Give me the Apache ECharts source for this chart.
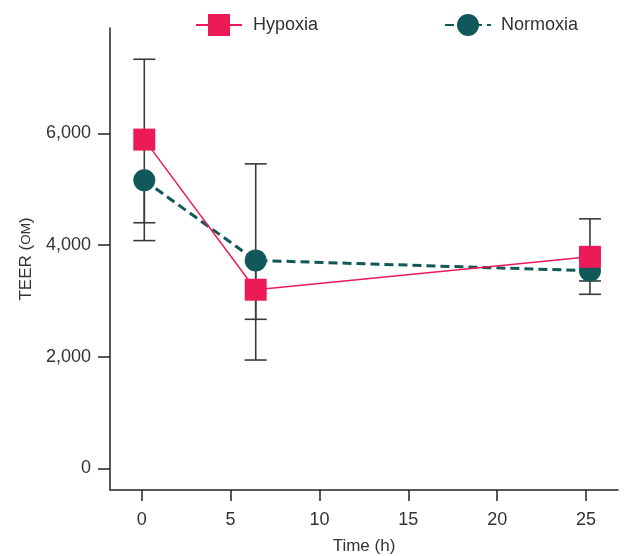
<!DOCTYPE html>
<html>
<head>
<meta charset="utf-8">
<script src="https://cdn.jsdelivr.net/npm/echarts@6/dist/echarts.min.js"></script>
<style>
    html, body { margin: 0; padding: 0; background: #fff; }
    #main { width: 625px; height: 556px; }
</style>
</head>
<body>
<div id="main"></div>
<script>
    // time points (h) and means
    const times = [0, 6, 24];
    const hypoxia = [5890, 3200, 3790];
    const normoxia = [5160, 3725, 3540];

    // error bar ends
    const hypoxiaLow = [4400, 2670, 3357];
    const hypoxiaHigh = [7330, 5455, 4470];
    const normoxiaLow = [4080, 1940, 3118];

    const xTicks = [0, 5, 10, 15, 20, 25];
    const yTicks = [0, 2000, 4000, 6000];

    const pink = '#ED1A58';
    const teal = '#11585A';
    const font = 'Liberation Sans, Arial, Helvetica, sans-serif';

    const errData = [];
    times.forEach((t, i) => {
        errData.push([t, hypoxiaLow[i], hypoxiaHigh[i], 1, 1]);
        errData.push([t, normoxiaLow[i], normoxia[i], 1, 0]);
    });

    function renderErr(params, api) {
        const x = api.value(0);
        const lo = api.coord([x, api.value(1)]);
        const hi = api.coord([x, api.value(2)]);
        const w = 11;
        const style = { stroke: '#3a3a3a', lineWidth: 1.6 };
        const children = [{
            type: 'line',
            shape: { x1: lo[0], y1: lo[1], x2: hi[0], y2: hi[1] },
            style: style
        }];
        if (api.value(3)) {
            children.push({ type: 'line', shape: { x1: lo[0] - w, y1: lo[1], x2: lo[0] + w, y2: lo[1] }, style: style });
        }
        if (api.value(4)) {
            children.push({ type: 'line', shape: { x1: hi[0] - w, y1: hi[1], x2: hi[0] + w, y2: hi[1] }, style: style });
        }
        return { type: 'group', children: children };
    }

    const axisLine = { onZero: false, lineStyle: { color: '#222', width: 1.5 } };

    const option = {
        animation: false,
        backgroundColor: '#fff',
        legend: [
            {
                data: ['Hypoxia'],
                left: 190,
                top: 9,
                itemWidth: 46,
                itemHeight: 27.5,
                textStyle: { fontFamily: font, fontSize: 18, color: '#333', padding: [0, 0, 0, 6] }
            },
            {
                data: ['Normoxia'],
                left: 439,
                top: 9,
                itemWidth: 46,
                itemHeight: 27.5,
                textStyle: { fontFamily: font, fontSize: 18, color: '#333', padding: [0, 0, 0, 5] }
            }
        ],
        grid: { left: 110, right: 7, top: 28, bottom: 66, containLabel: false, outerBoundsMode: 'none' },
        xAxis: [
            {
                type: 'value',
                min: -1.784,
                max: 26.8,
                name: 'Time (h)',
                nameLocation: 'middle',
                nameGap: 48,
                nameTextStyle: { fontFamily: font, fontSize: 17, color: '#333' },
                axisLine: axisLine,
                axisTick: { length: 11, customValues: xTicks, lineStyle: { color: '#222', width: 1.5 } },
                axisLabel: { customValues: xTicks, margin: 21, fontFamily: font, fontSize: 18, color: '#333' },
                splitLine: { show: false }
            },
            {
                // hidden axis carrying the data positions
                type: 'value',
                min: -1.847,
                max: 25.51,
                show: false,
                position: 'bottom',
                axisLine: { onZero: false }
            }
        ],
        yAxis: {
            type: 'value',
            min: -389,
            max: 7890,
            name: 'TEER ({s|OM})',
            nameLocation: 'middle',
            nameGap: 73,
            nameTextStyle: {
                fontFamily: font, fontSize: 17, color: '#333',
                rich: { s: { fontFamily: font, fontSize: 13.5, color: '#333' } }
            },
            axisLine: axisLine,
            axisTick: { length: 12, customValues: yTicks, lineStyle: { color: '#222', width: 1.5 } },
            axisLabel: {
                customValues: yTicks,
                margin: 19,
                fontFamily: font,
                fontSize: 18,
                color: '#333',
                formatter: v => v.toLocaleString('en-US')
            },
            splitLine: { show: false }
        },
        series: [
            {
                type: 'custom',
                name: 'err',
                xAxisIndex: 1,
                renderItem: renderErr,
                encode: { x: 0, y: [1, 2] },
                data: errData,
                z: 1,
                silent: true
            },
            {
                name: 'Normoxia',
                type: 'line',
                xAxisIndex: 1,
                data: times.map((t, i) => [t, normoxia[i]]),
                symbol: 'circle',
                symbolSize: 22,
                itemStyle: { color: teal },
                lineStyle: { color: teal, width: 3, type: [9, 5] },
                z: 3
            },
            {
                name: 'Hypoxia',
                type: 'line',
                xAxisIndex: 1,
                data: times.map((t, i) => [t, hypoxia[i]]),
                symbol: 'rect',
                symbolSize: 22,
                itemStyle: { color: pink },
                lineStyle: { color: pink, width: 1.5 },
                z: 4
            }
        ]
    };

    const chart = echarts.init(document.getElementById('main'));
    chart.setOption(option);
</script>
</body>
</html>
